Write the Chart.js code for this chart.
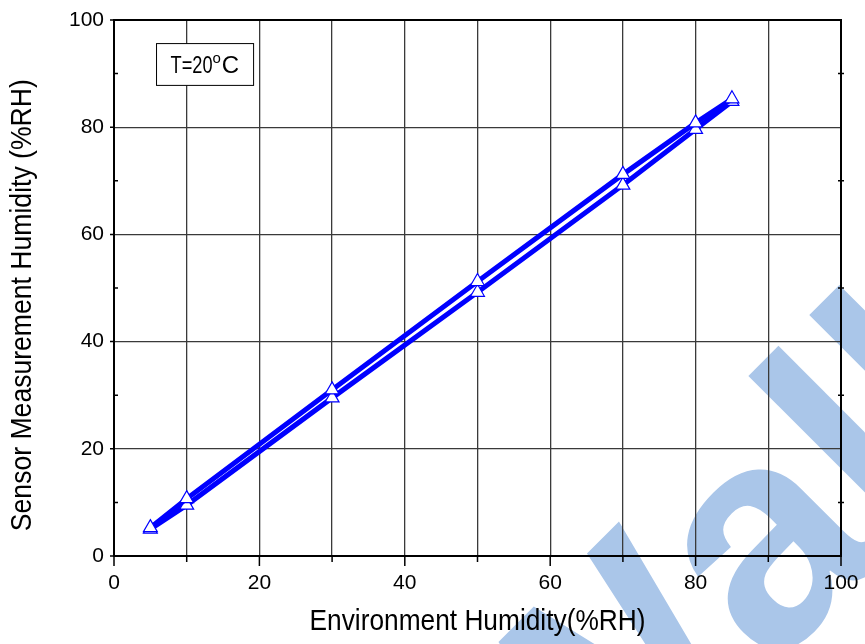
<!DOCTYPE html>
<html>
<head>
<meta charset="utf-8">
<script src="https://cdn.jsdelivr.net/npm/chart.js@4.4.1/dist/chart.umd.min.js"></script>
<style>
  html, body { margin: 0; padding: 0; background: #fff; }
  #wrap { width: 865px; height: 644px; position: relative; }
</style>
</head>
<body>
<div id="wrap"><canvas id="myChart"></canvas></div>
<script>
// environment humidity (x) and the two sensor readings (y)
const envHumidity = [5, 10, 30, 50, 70, 80, 85];
const sensorRising = [5.3, 10.7, 31, 51.2, 71.2, 80.8, 85.3];
const sensorFalling = [5, 9.5, 29.5, 49.2, 69.2, 79.6, 84.8];

const xTickLabels = [0, 20, 40, 60, 80, 100];
const yTickLabels = [0, 20, 40, 60, 80, 100];

const xTitle = 'Environment Humidity(%RH)';
const yTitle = 'Sensor Measurement Humidity (%RH)';

const fontFamily = '"Liberation Sans", Arial, sans-serif';
const lineBlue = '#0000ff';

function toPoints(ys) {
    return envHumidity.map(function (x, i) { return { x: x, y: ys[i] }; });
}

// watermark behind the plot
const watermark = {
    id: 'watermark',
    beforeDraw: function (chart) {
        const ctx = chart.ctx;
        ctx.save();
        ctx.translate(770, 672);
        ctx.rotate(-Math.PI / 4);
        ctx.fillStyle = '#aac6e9';
        ctx.font = 'bold 310px ' + fontFamily;
        ctx.textBaseline = 'alphabetic';
        ctx.textAlign = 'left';
        ctx.fillText('alk', 0, 0);
        ctx.textAlign = 'right';
        ctx.fillText('W', 0, 0);
        ctx.restore();
    }
};

// frame, tick marks, axis titles and the temperature label
const frame = {
    id: 'frame',
    afterDatasetsDraw: function (chart) {
        const ctx = chart.ctx;
        const a = chart.chartArea;
        const xs = chart.scales.x;
        const ys = chart.scales.y;
        ctx.save();
        ctx.strokeStyle = '#000';
        ctx.lineWidth = 1.5;
        for (let v = 0; v <= 100; v += 10) {
            const major = v % 20 === 0;
            const px = xs.getPixelForValue(v);
            const py = ys.getPixelForValue(v);
            ctx.beginPath();
            // bottom axis ticks point outward
            ctx.moveTo(px, a.bottom);
            ctx.lineTo(px, a.bottom + (major ? 10 : 6));
            // left axis
            if (major) {
                ctx.moveTo(a.left - 4, py);
                ctx.lineTo(a.left, py);
            } else {
                ctx.moveTo(a.left, py);
                ctx.lineTo(a.left + 4, py);
                ctx.moveTo(a.right - 3, py);
                ctx.lineTo(a.right + 3, py);
            }
            ctx.stroke();
        }
        ctx.lineWidth = 2;
        ctx.strokeRect(a.left, a.top, a.right - a.left, a.bottom - a.top);

        // axis titles, a little condensed like the original
        ctx.fillStyle = '#000';
        ctx.font = '29px ' + fontFamily;
        ctx.textAlign = 'center';
        ctx.textBaseline = 'middle';
        ctx.fillText(xTitle, (a.left + a.right) / 2, 622, 336);
        ctx.save();
        ctx.translate(23, ys.getPixelForValue(46.8));
        ctx.rotate(-Math.PI / 2);
        ctx.fillText(yTitle, 0, 0, 452);
        ctx.restore();

        // T=20oC box
        const bx1 = xs.getPixelForValue(5.85), bx2 = xs.getPixelForValue(19.2);
        const by1 = ys.getPixelForValue(95.6), by2 = ys.getPixelForValue(87.8);
        ctx.fillStyle = '#fff';
        ctx.fillRect(bx1, by1, bx2 - bx1, by2 - by1);
        ctx.lineWidth = 1;
        ctx.strokeRect(bx1, by1, bx2 - bx1, by2 - by1);
        ctx.fillStyle = '#000';
        ctx.textAlign = 'left';
        ctx.textBaseline = 'alphabetic';
        ctx.font = '24px ' + fontFamily;
        let tx = bx1 + 14;
        const base = (by1 + by2) / 2 + 9;
        ctx.fillText('T=20', tx, base, 42);
        tx += 42;
        ctx.font = '15px ' + fontFamily;
        ctx.fillText('o', tx, base - 10);
        tx += ctx.measureText('o').width + 1;
        ctx.font = '24px ' + fontFamily;
        ctx.fillText('C', tx, base, 20);
        ctx.restore();
    }
};

const lineStyle = {
    showLine: true,
    borderColor: lineBlue,
    borderWidth: 5,
    pointStyle: 'triangle',
    pointRadius: 8,
    pointBorderWidth: 1.2,
    pointBorderColor: lineBlue,
    pointBackgroundColor: '#fff',
    tension: 0
};

new Chart('myChart', {
    type: 'scatter',
    data: {
        datasets: [
            Object.assign({ label: 'rising', data: toPoints(sensorRising) }, lineStyle),
            Object.assign({ label: 'falling', data: toPoints(sensorFalling) }, lineStyle)
        ]
    },
    options: {
        responsive: true,
        maintainAspectRatio: false,
        animation: false,
        layout: { padding: { top: 20, right: 24, left: 0, bottom: 0 } },
        plugins: {
            legend: { display: false },
            tooltip: { enabled: false }
        },
        scales: {
            x: {
                type: 'linear',
                min: 0,
                max: 100,
                afterFit: function (s) {
                    s.height = 88;
                    s.paddingLeft = 0;
                    s.paddingRight = 0;
                },
                border: { display: false },
                grid: {
                    drawTicks: false,
                    color: function (c) {
                        const v = c.tick.value;
                        return (v === 0 || v === 100) ? 'rgba(0,0,0,0)' : '#3a3a3a';
                    },
                    lineWidth: 1.3
                },
                ticks: {
                    stepSize: 10,
                    padding: 15,
                    maxRotation: 0,
                    color: '#000',
                    font: { family: fontFamily, size: 21 },
                    callback: function (v) { return xTickLabels.includes(v) ? String(v) : ''; }
                }
            },
            y: {
                type: 'linear',
                min: 0,
                max: 100,
                afterFit: function (s) {
                    s.width = 114;
                    s.paddingTop = 0;
                    s.paddingBottom = 0;
                },
                border: { display: false },
                grid: {
                    drawTicks: false,
                    color: function (c) {
                        const v = c.tick.value;
                        return (v % 20 !== 0 || v === 0 || v === 100) ? 'rgba(0,0,0,0)' : '#3a3a3a';
                    },
                    lineWidth: 1.3
                },
                ticks: {
                    stepSize: 10,
                    padding: 10,
                    color: '#000',
                    font: { family: fontFamily, size: 21 },
                    callback: function (v) { return yTickLabels.includes(v) ? String(v) : ''; }
                }
            }
        }
    },
    plugins: [watermark, frame]
});
</script>
</body>
</html>
